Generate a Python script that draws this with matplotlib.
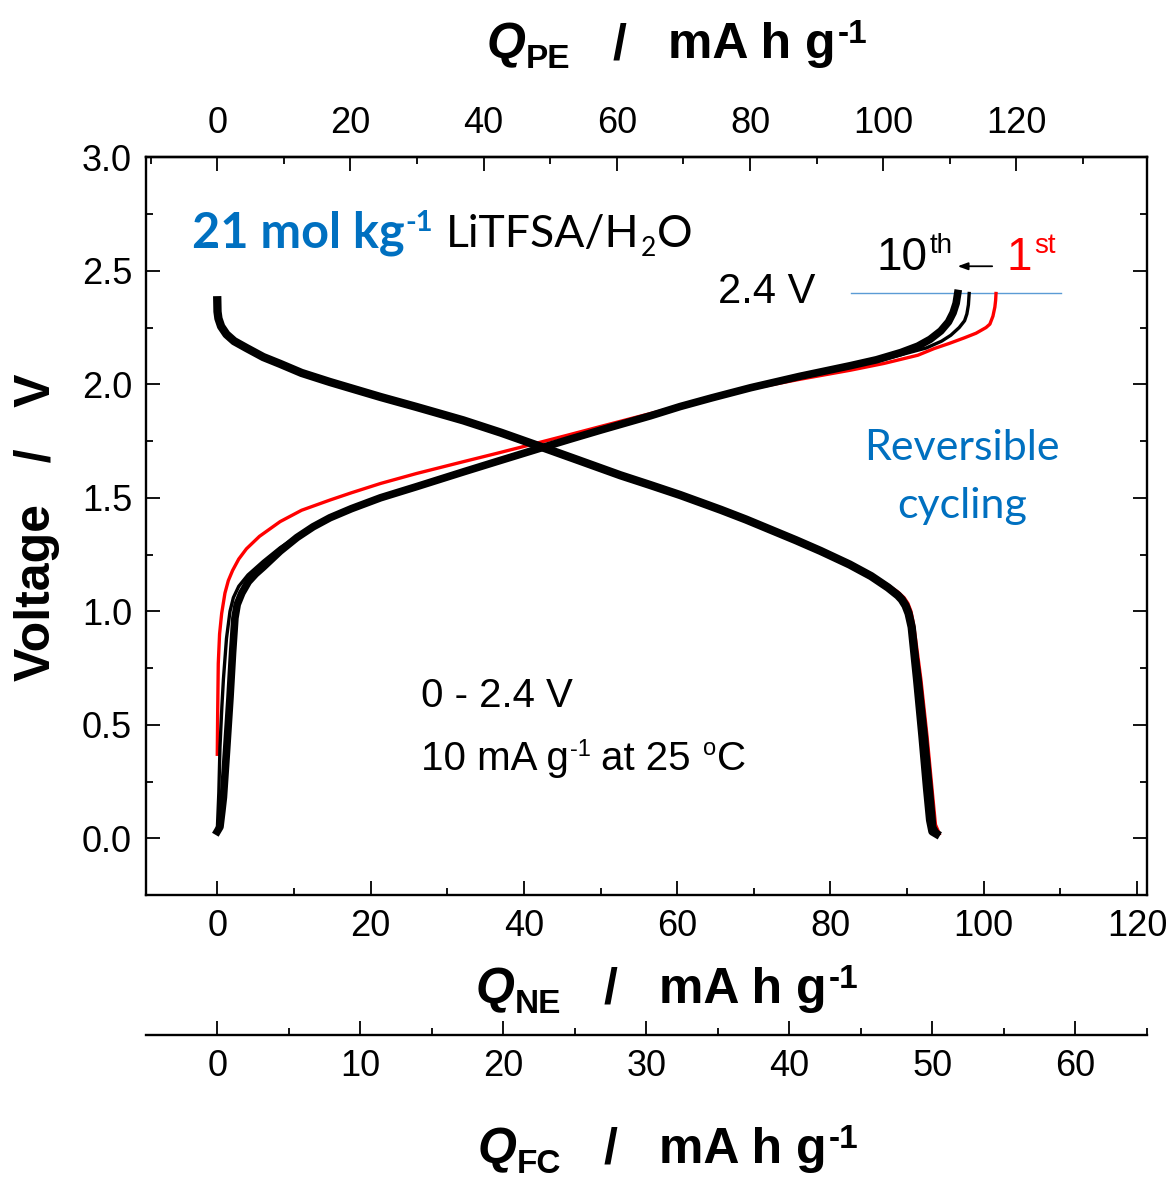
import matplotlib
matplotlib.use("Agg")
import matplotlib.pyplot as plt
from matplotlib.ticker import MultipleLocator, FixedLocator, FormatStrFormatter

plt.rcParams["font.family"] = ["Liberation Sans", "DejaVu Sans"]

# ---- capacity (negative electrode basis, mA h g-1) vs. voltage (V) ----
# 1st cycle
q1_chg = [0.0, 0.05, 0.13, 0.3, 0.57, 1.0, 1.44, 2.0, 2.8, 3.8, 5.5, 8.2, 11.0, 14.7,
          17.5, 21.3, 26.0, 32.1, 36.5, 40.8, 45.5, 50.0, 55.0, 59.5, 64.5, 69.6, 76.0,
          82.6, 87.0, 91.4, 93.5, 95.5, 97.5, 99.0, 100.3, 100.8, 101.2, 101.45,
          101.55, 101.6]
v1_chg = [0.37, 0.55, 0.77, 0.90, 0.99, 1.08, 1.135, 1.18, 1.23, 1.275, 1.33, 1.395,
          1.445, 1.49, 1.522, 1.563, 1.607, 1.659, 1.696, 1.733, 1.774, 1.814, 1.858,
          1.897, 1.94, 1.98, 2.022, 2.062, 2.092, 2.128, 2.157, 2.18, 2.205, 2.225,
          2.25, 2.265, 2.30, 2.34, 2.37, 2.40]
q1_dis = [0.0, 0.03, 0.15, 0.5, 1.2, 2.2, 3.8, 6.0, 8.2, 11.0, 14.7, 21.3, 26.0, 32.1,
          37.0, 41.7, 47.0, 52.6, 56.5, 60.4, 65.7, 69.0, 72.0, 75.5, 78.7, 82.5, 85.3,
          87.5, 88.8, 89.6, 90.1, 90.5, 90.8, 91.1, 91.8, 92.6, 93.3, 93.7, 94.2]
v1_dis = [2.37, 2.32, 2.29, 2.255, 2.22, 2.19, 2.16, 2.12, 2.09, 2.05, 2.01, 1.944,
          1.90, 1.841, 1.787, 1.731, 1.667, 1.599, 1.556, 1.512, 1.447, 1.404, 1.362,
          1.313, 1.266, 1.206, 1.16, 1.115, 1.085, 1.06, 1.035, 1.00, 0.95, 0.88,
          0.70, 0.45, 0.20, 0.06, 0.02]

# 2nd cycle
q2_chg = [0.0, 0.2, 0.35, 0.6, 0.8, 1.2, 1.66, 2.1, 2.8, 4.0, 6.0, 8.2, 10.4, 12.5,
          14.7, 17.5, 21.3, 26.0, 32.1, 36.5, 41.7, 46.0, 50.0, 56.5, 60.4, 64.5, 69.6,
          76.0, 82.6, 86.0, 89.2, 92.5, 94.5, 95.7, 96.8, 97.5, 97.8, 98.0, 98.1]
v2_chg = [0.035, 0.20, 0.40, 0.58, 0.70, 0.88, 1.00, 1.06, 1.11, 1.16, 1.22, 1.28,
          1.33, 1.378, 1.418, 1.458, 1.505, 1.555, 1.618, 1.664, 1.717, 1.761, 1.80,
          1.863, 1.905, 1.943, 1.985, 2.033, 2.078, 2.10, 2.13, 2.16, 2.19, 2.216,
          2.25, 2.28, 2.31, 2.35, 2.40]
q2_dis = [0.0, 0.03, 0.15, 0.5, 1.2, 2.2, 3.8, 6.0, 8.2, 11.0, 14.7, 21.3, 26.0, 32.1,
          37.0, 41.7, 47.0, 52.6, 56.5, 60.4, 65.7, 69.0, 72.0, 75.5, 78.7, 82.5, 85.3,
          87.5, 88.8, 89.5, 90.0, 90.4, 90.9, 91.7, 92.5, 93.2, 93.6, 94.1]
v2_dis = [2.37, 2.32, 2.29, 2.255, 2.22, 2.19, 2.16, 2.12, 2.09, 2.05, 2.01, 1.944,
          1.90, 1.841, 1.787, 1.731, 1.667, 1.599, 1.556, 1.512, 1.447, 1.404, 1.362,
          1.313, 1.266, 1.206, 1.155, 1.105, 1.072, 1.05, 1.02, 0.98, 0.90, 0.70, 0.45,
          0.20, 0.05, 0.02]

# 10th cycle
q10_chg = [0.0, 0.35, 0.6, 0.8, 1.2, 1.66, 2.0, 2.3, 2.6, 3.2, 4.05, 5.0, 6.0, 8.2,
           10.4, 12.5, 14.7, 17.5, 21.3, 26.0, 32.1, 36.5, 41.7, 46.0, 50.0, 56.5, 60.4,
           64.5, 69.6, 76.0, 82.6, 86.0, 89.2, 91.4, 93.0, 94.4, 95.4, 96.0, 96.4, 96.6]
v10_chg = [0.03, 0.05, 0.12, 0.18, 0.38, 0.62, 0.82, 0.97, 1.03, 1.08, 1.13, 1.165,
           1.195, 1.265, 1.325, 1.372, 1.412, 1.452, 1.50, 1.549, 1.614, 1.66, 1.714,
           1.758, 1.798, 1.861, 1.902, 1.94, 1.985, 2.035, 2.082, 2.108, 2.14, 2.168,
           2.198, 2.235, 2.275, 2.315, 2.357, 2.40]
q10_dis = [0.0, 0.03, 0.15, 0.5, 1.2, 2.2, 3.8, 6.0, 8.2, 11.0, 14.7, 21.3, 26.0, 32.1,
           37.0, 41.7, 47.0, 52.6, 56.5, 60.4, 65.7, 69.0, 72.0, 75.5, 78.7, 82.5, 85.3,
           87.5, 88.8, 89.3, 89.8, 90.2, 90.6, 91.3, 92.0, 92.6, 93.0, 93.3, 93.8]
v10_dis = [2.37, 2.32, 2.29, 2.255, 2.22, 2.19, 2.16, 2.12, 2.09, 2.05, 2.01, 1.944,
           1.90, 1.841, 1.787, 1.731, 1.667, 1.599, 1.556, 1.512, 1.447, 1.404, 1.362,
           1.313, 1.266, 1.206, 1.155, 1.105, 1.07, 1.052, 1.025, 0.99, 0.93, 0.70,
           0.45, 0.22, 0.08, 0.03, 0.02]

# capacity scale factors relative to the negative electrode
PE_PER_NE = 1.151
FC_PER_NE = 0.536

CUTOFF_V = 2.4
CUTOFF_SPAN = [82.7, 110.1]

pe_ticks = [0, 20, 40, 60, 80, 100, 120]
pe_minor = [-10, 10, 30, 50, 70, 90, 110, 130]
fc_ticks = [0, 10, 20, 30, 40, 50, 60]
fc_minor = [-5, 5, 15, 25, 35, 45, 55, 65]

W, H = 1171, 1179
fig = plt.figure(figsize=(W / 100, H / 100), dpi=100)
renderer = fig.canvas.get_renderer()


def px(x, y):
    return x / W, 1 - y / H


def rich_line(x, y, pieces):
    """Lay out styled text pieces along one baseline starting at pixel (x, y)."""
    cur = x
    for s, props in pieces:
        props = dict(props)
        dy = props.pop("dy", 0)
        gap = props.pop("gap", 0)
        cur += gap
        t = fig.text(*px(cur, y - dy), s, ha="left", va="baseline", **props)
        cur += t.get_window_extent(renderer).width
    return cur


ax = fig.add_axes([146 / W, 1 - 895 / H, 1001 / W, 737.7 / H])
ax.set_xlim(-9.3, 121.3)
ax.set_ylim(-0.25, 3.0)

# curves
ax.plot(q1_dis, v1_dis, color="red", lw=2.4, zorder=2)
ax.plot(q1_chg, v1_chg, color="red", lw=2.4, zorder=2)
ax.plot(q2_dis, v2_dis, color="black", lw=2.6, zorder=3)
ax.plot(q2_chg, v2_chg, color="black", lw=2.4, zorder=3)
ax.plot(q10_dis, v10_dis, color="black", lw=6.0, zorder=3)
ax.plot(q10_chg, v10_chg, color="black", lw=5.5, zorder=3)

# cut-off voltage line and cycle arrow
ax.plot(CUTOFF_SPAN, [CUTOFF_V, CUTOFF_V], color="#5B9BD5", lw=1.0, zorder=1)
ax.annotate("", xy=(96.6, 2.52), xytext=(101.1, 2.52),
            arrowprops=dict(arrowstyle="-|>,head_length=0.6,head_width=0.22",
                            color="black", lw=1.3, shrinkA=0, shrinkB=0),
            annotation_clip=False)

# spines and ticks
for sp in ax.spines.values():
    sp.set_linewidth(1.7)
ax.xaxis.set_major_locator(MultipleLocator(20))
ax.xaxis.set_minor_locator(MultipleLocator(10))
ax.yaxis.set_major_locator(MultipleLocator(0.5))
ax.yaxis.set_minor_locator(MultipleLocator(0.25))
ax.yaxis.set_major_formatter(FormatStrFormatter("%.1f"))
ax.tick_params(which="both", direction="in", top=False, right=True, width=1.3,
               labelsize=26)
ax.tick_params(which="major", length=10)
ax.tick_params(which="minor", length=5)
ax.tick_params(axis="x", pad=10)
ax.tick_params(axis="y", pad=10)

top = ax.secondary_xaxis("top", functions=(lambda x: x * PE_PER_NE,
                                           lambda x: x / PE_PER_NE))
top.xaxis.set_major_locator(FixedLocator(pe_ticks))
top.xaxis.set_minor_locator(FixedLocator(pe_minor))
top.tick_params(which="both", direction="in", width=1.3, labelsize=26, pad=12)
top.tick_params(which="major", length=10)
top.tick_params(which="minor", length=5)
top.spines["top"].set_linewidth(1.7)

fc = ax.secondary_xaxis(-0.1898, functions=(lambda x: x * FC_PER_NE,
                                            lambda x: x / FC_PER_NE))
fc.xaxis.set_major_locator(FixedLocator(fc_ticks))
fc.xaxis.set_minor_locator(FixedLocator(fc_minor))
fc.tick_params(which="both", direction="in", width=1.3, labelsize=26, pad=10)
fc.tick_params(which="major", length=10)
fc.tick_params(which="minor", length=5)
fc.spines["bottom"].set_linewidth(1.7)

# axis titles
big = dict(size=36, weight="bold")
qit = dict(size=36, weight="bold", style="italic")
small_b = dict(size=24, weight="bold")
for x0, yb, sub in [(487, 58, "PE"), (476, 1003, "NE"), (478, 1163, "FC")]:
    rich_line(x0, yb, [("Q", qit),
                       (sub, dict(small_b, dy=-10)),
                       ("/", dict(big, gap=42)),
                       ("mA h g", dict(big, gap=42)),
                       ("-1", dict(small_b, dy=15, gap=2))])
fig.text(*px(37, 527), "Voltage   /   V", rotation=90, ha="center", va="center",
         size=36, weight="bold")

# annotations
calib = ["Lato", "DejaVu Sans"]
blue = "#0070C0"
rich_line(192, 247, [("21 mol kg", dict(size=35, weight="bold", color=blue, family=calib)),
                     ("-1", dict(size=21, weight="bold", color=blue, family=calib, dy=16, gap=1)),
                     ("LiTFSA/H", dict(size=32, color="black", family=calib, gap=13)),
                     ("2", dict(size=19, color="black", family=calib, dy=-9, gap=1)),
                     ("O", dict(size=32, color="black", family=calib, gap=1))])
fig.text(*px(962, 460), "Reversible", ha="center", va="baseline", size=31,
         color=blue, family=calib)
fig.text(*px(962, 518), "cycling", ha="center", va="baseline", size=31,
         color=blue, family=calib)

fig.text(*px(718, 303), "2.4 V", ha="left", va="baseline", size=30)
rich_line(877, 270, [("10", dict(size=33)), ("th", dict(size=20, dy=17, gap=2))])
rich_line(1006, 270, [("1", dict(size=33, color="red")),
                      ("st", dict(size=20, dy=17, gap=3, color="red"))])

fig.text(*px(421, 707), "0 - 2.4 V", ha="left", va="baseline", size=29)
rich_line(421, 770, [("10 mA g", dict(size=29)),
                     ("-1", dict(size=17, dy=14, gap=1)),
                     ("at 25", dict(size=29, gap=10)),
                     ("o", dict(size=17, dy=15, gap=13)),
                     ("C", dict(size=29, gap=1))])

fig.savefig("out.png", dpi=100)
